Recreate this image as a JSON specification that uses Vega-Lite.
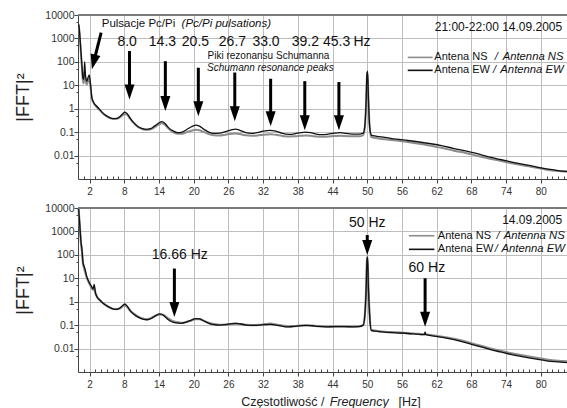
{
  "$schema": "https://vega.github.io/schema/vega-lite/v6.json",
  "padding": {"left": 14, "top": 10, "right": 0, "bottom": 0},
  "background": "white",
  "config": {
    "font": "Liberation Sans",
    "view": {"stroke": null},
    "axis": {"labelFont": "Liberation Sans", "titleFont": "Liberation Sans", "labelColor": "#333", "titleColor": "#222", "domainColor": "#444", "tickColor": "#444", "gridColor": "#bdbdbd", "gridOpacity": 1, "gridWidth": 1}
  },
  "datasets": {
    "top": [
      {"f":0.15,"v":4000,"a":"EW"},{"f":0.3,"v":1500,"a":"EW"},{"f":0.5,"v":300,"a":"EW"},{"f":0.7,"v":60,"a":"EW"},{"f":0.85,"v":20,"a":"EW"},{"f":1.0,"v":18,"a":"EW"},{"f":1.15,"v":100,"a":"EW"},{"f":1.3,"v":25,"a":"EW"},{"f":1.5,"v":15,"a":"EW"},{"f":1.7,"v":20,"a":"EW"},{"f":1.95,"v":28,"a":"EW"},{"f":2.15,"v":12,"a":"EW"},{"f":2.4,"v":3,"a":"EW"},{"f":2.8,"v":1.7,"a":"EW"},{"f":3.2,"v":1.3,"a":"EW"},{"f":3.7,"v":0.95,"a":"EW"},{"f":4.2,"v":0.7,"a":"EW"},{"f":4.8,"v":0.52,"a":"EW"},{"f":5.4,"v":0.43,"a":"EW"},{"f":6.0,"v":0.38,"a":"EW"},{"f":6.6,"v":0.38,"a":"EW"},{"f":7.2,"v":0.45,"a":"EW"},{"f":7.7,"v":0.6,"a":"EW"},{"f":8.1,"v":0.72,"a":"EW"},{"f":8.5,"v":0.62,"a":"EW"},{"f":9.0,"v":0.4,"a":"EW"},{"f":9.6,"v":0.26,"a":"EW"},{"f":10.3,"v":0.18,"a":"EW"},{"f":11.0,"v":0.145,"a":"EW"},{"f":11.8,"v":0.13,"a":"EW"},{"f":12.5,"v":0.14,"a":"EW"},{"f":13.2,"v":0.18,"a":"EW"},{"f":13.9,"v":0.24,"a":"EW"},{"f":14.5,"v":0.28,"a":"EW"},{"f":15.0,"v":0.24,"a":"EW"},{"f":15.6,"v":0.16,"a":"EW"},{"f":16.4,"v":0.115,"a":"EW"},{"f":17.2,"v":0.095,"a":"EW"},{"f":18.0,"v":0.1,"a":"EW"},{"f":18.8,"v":0.13,"a":"EW"},{"f":19.6,"v":0.17,"a":"EW"},{"f":20.4,"v":0.2,"a":"EW"},{"f":21.0,"v":0.18,"a":"EW"},{"f":21.8,"v":0.13,"a":"EW"},{"f":22.6,"v":0.1,"a":"EW"},{"f":23.5,"v":0.088,"a":"EW"},{"f":24.5,"v":0.09,"a":"EW"},{"f":25.5,"v":0.105,"a":"EW"},{"f":26.5,"v":0.125,"a":"EW"},{"f":27.2,"v":0.135,"a":"EW"},{"f":28.0,"v":0.12,"a":"EW"},{"f":29.0,"v":0.095,"a":"EW"},{"f":30.0,"v":0.088,"a":"EW"},{"f":31.0,"v":0.095,"a":"EW"},{"f":32.0,"v":0.11,"a":"EW"},{"f":33.2,"v":0.12,"a":"EW"},{"f":34.2,"v":0.11,"a":"EW"},{"f":35.2,"v":0.09,"a":"EW"},{"f":36.5,"v":0.08,"a":"EW"},{"f":37.5,"v":0.085,"a":"EW"},{"f":38.5,"v":0.095,"a":"EW"},{"f":39.3,"v":0.1,"a":"EW"},{"f":40.2,"v":0.095,"a":"EW"},{"f":41.2,"v":0.082,"a":"EW"},{"f":42.2,"v":0.078,"a":"EW"},{"f":43.2,"v":0.082,"a":"EW"},{"f":44.3,"v":0.09,"a":"EW"},{"f":45.3,"v":0.095,"a":"EW"},{"f":46.3,"v":0.088,"a":"EW"},{"f":47.5,"v":0.083,"a":"EW"},{"f":48.5,"v":0.082,"a":"EW"},{"f":49.3,"v":0.09,"a":"EW"},{"f":49.6,"v":0.2,"a":"EW"},{"f":49.8,"v":2,"a":"EW"},{"f":49.95,"v":30,"a":"EW"},{"f":50.05,"v":40,"a":"EW"},{"f":50.2,"v":3,"a":"EW"},{"f":50.4,"v":0.2,"a":"EW"},{"f":50.7,"v":0.075,"a":"EW"},{"f":51.5,"v":0.068,"a":"EW"},{"f":53,"v":0.06,"a":"EW"},{"f":55,"v":0.05,"a":"EW"},{"f":57,"v":0.044,"a":"EW"},{"f":59,"v":0.038,"a":"EW"},{"f":61,"v":0.032,"a":"EW"},{"f":63,"v":0.026,"a":"EW"},{"f":65,"v":0.02,"a":"EW"},{"f":67,"v":0.016,"a":"EW"},{"f":69,"v":0.012,"a":"EW"},{"f":71,"v":0.0088,"a":"EW"},{"f":73,"v":0.0068,"a":"EW"},{"f":75,"v":0.0053,"a":"EW"},{"f":77,"v":0.0042,"a":"EW"},{"f":79,"v":0.0034,"a":"EW"},{"f":81,"v":0.0027,"a":"EW"},{"f":83,"v":0.0023,"a":"EW"},{"f":84.7,"v":0.0021,"a":"EW"},
      {"f":0.15,"v":3500,"a":"NS"},{"f":0.3,"v":1300,"a":"NS"},{"f":0.5,"v":250,"a":"NS"},{"f":0.7,"v":50,"a":"NS"},{"f":0.85,"v":15,"a":"NS"},{"f":1.0,"v":12,"a":"NS"},{"f":1.15,"v":40,"a":"NS"},{"f":1.3,"v":18,"a":"NS"},{"f":1.5,"v":11,"a":"NS"},{"f":1.7,"v":14,"a":"NS"},{"f":1.95,"v":20,"a":"NS"},{"f":2.15,"v":9,"a":"NS"},{"f":2.4,"v":2.7,"a":"NS"},{"f":2.8,"v":1.6,"a":"NS"},{"f":3.2,"v":1.2,"a":"NS"},{"f":3.7,"v":0.9,"a":"NS"},{"f":4.2,"v":0.66,"a":"NS"},{"f":4.8,"v":0.5,"a":"NS"},{"f":5.4,"v":0.41,"a":"NS"},{"f":6.0,"v":0.37,"a":"NS"},{"f":6.6,"v":0.37,"a":"NS"},{"f":7.2,"v":0.42,"a":"NS"},{"f":7.7,"v":0.52,"a":"NS"},{"f":8.1,"v":0.6,"a":"NS"},{"f":8.5,"v":0.55,"a":"NS"},{"f":9.0,"v":0.38,"a":"NS"},{"f":9.6,"v":0.25,"a":"NS"},{"f":10.3,"v":0.17,"a":"NS"},{"f":11.0,"v":0.14,"a":"NS"},{"f":11.8,"v":0.125,"a":"NS"},{"f":12.5,"v":0.13,"a":"NS"},{"f":13.2,"v":0.16,"a":"NS"},{"f":13.9,"v":0.21,"a":"NS"},{"f":14.5,"v":0.24,"a":"NS"},{"f":15.0,"v":0.21,"a":"NS"},{"f":15.6,"v":0.145,"a":"NS"},{"f":16.4,"v":0.1,"a":"NS"},{"f":17.2,"v":0.085,"a":"NS"},{"f":18.0,"v":0.085,"a":"NS"},{"f":18.8,"v":0.1,"a":"NS"},{"f":19.6,"v":0.115,"a":"NS"},{"f":20.4,"v":0.125,"a":"NS"},{"f":21.0,"v":0.12,"a":"NS"},{"f":21.8,"v":0.1,"a":"NS"},{"f":22.6,"v":0.082,"a":"NS"},{"f":23.5,"v":0.074,"a":"NS"},{"f":24.5,"v":0.072,"a":"NS"},{"f":25.5,"v":0.078,"a":"NS"},{"f":26.5,"v":0.085,"a":"NS"},{"f":27.2,"v":0.088,"a":"NS"},{"f":28.0,"v":0.083,"a":"NS"},{"f":29.0,"v":0.073,"a":"NS"},{"f":30.0,"v":0.07,"a":"NS"},{"f":31.0,"v":0.072,"a":"NS"},{"f":32.0,"v":0.078,"a":"NS"},{"f":33.2,"v":0.082,"a":"NS"},{"f":34.2,"v":0.077,"a":"NS"},{"f":35.2,"v":0.07,"a":"NS"},{"f":36.5,"v":0.065,"a":"NS"},{"f":37.5,"v":0.066,"a":"NS"},{"f":38.5,"v":0.07,"a":"NS"},{"f":39.3,"v":0.072,"a":"NS"},{"f":40.2,"v":0.07,"a":"NS"},{"f":41.2,"v":0.065,"a":"NS"},{"f":42.2,"v":0.063,"a":"NS"},{"f":43.2,"v":0.065,"a":"NS"},{"f":44.3,"v":0.068,"a":"NS"},{"f":45.3,"v":0.07,"a":"NS"},{"f":46.3,"v":0.068,"a":"NS"},{"f":47.5,"v":0.066,"a":"NS"},{"f":48.5,"v":0.066,"a":"NS"},{"f":49.3,"v":0.075,"a":"NS"},{"f":49.6,"v":0.18,"a":"NS"},{"f":49.8,"v":1.8,"a":"NS"},{"f":49.95,"v":25,"a":"NS"},{"f":50.05,"v":35,"a":"NS"},{"f":50.2,"v":2.5,"a":"NS"},{"f":50.4,"v":0.18,"a":"NS"},{"f":50.7,"v":0.062,"a":"NS"},{"f":51.5,"v":0.056,"a":"NS"},{"f":53,"v":0.05,"a":"NS"},{"f":55,"v":0.044,"a":"NS"},{"f":57,"v":0.038,"a":"NS"},{"f":59,"v":0.032,"a":"NS"},{"f":61,"v":0.026,"a":"NS"},{"f":63,"v":0.021,"a":"NS"},{"f":65,"v":0.016,"a":"NS"},{"f":67,"v":0.013,"a":"NS"},{"f":69,"v":0.0098,"a":"NS"},{"f":71,"v":0.0075,"a":"NS"},{"f":73,"v":0.006,"a":"NS"},{"f":75,"v":0.0047,"a":"NS"},{"f":77,"v":0.0038,"a":"NS"},{"f":79,"v":0.0031,"a":"NS"},{"f":81,"v":0.0025,"a":"NS"},{"f":83,"v":0.0022,"a":"NS"},{"f":84.7,"v":0.002,"a":"NS"}
    ],
    "bottom": [
      {"f":0.1,"v":10000,"a":"EW"},{"f":0.3,"v":2000,"a":"EW"},{"f":0.5,"v":400,"a":"EW"},{"f":0.7,"v":150,"a":"EW"},{"f":0.85,"v":50,"a":"EW"},{"f":1.0,"v":35,"a":"EW"},{"f":1.2,"v":25,"a":"EW"},{"f":1.5,"v":12,"a":"EW"},{"f":1.9,"v":7,"a":"EW"},{"f":2.3,"v":4.7,"a":"EW"},{"f":2.6,"v":3.5,"a":"EW"},{"f":2.8,"v":5.5,"a":"EW"},{"f":3.0,"v":2.5,"a":"EW"},{"f":3.3,"v":1.6,"a":"EW"},{"f":3.8,"v":1.15,"a":"EW"},{"f":4.5,"v":0.8,"a":"EW"},{"f":5.3,"v":0.6,"a":"EW"},{"f":6.0,"v":0.5,"a":"EW"},{"f":6.7,"v":0.47,"a":"EW"},{"f":7.3,"v":0.55,"a":"EW"},{"f":7.8,"v":0.72,"a":"EW"},{"f":8.1,"v":0.8,"a":"EW"},{"f":8.5,"v":0.65,"a":"EW"},{"f":9.0,"v":0.42,"a":"EW"},{"f":9.6,"v":0.3,"a":"EW"},{"f":10.4,"v":0.22,"a":"EW"},{"f":11.2,"v":0.18,"a":"EW"},{"f":12.0,"v":0.17,"a":"EW"},{"f":12.8,"v":0.2,"a":"EW"},{"f":13.5,"v":0.26,"a":"EW"},{"f":14.2,"v":0.3,"a":"EW"},{"f":14.8,"v":0.26,"a":"EW"},{"f":15.5,"v":0.18,"a":"EW"},{"f":16.2,"v":0.14,"a":"EW"},{"f":17.0,"v":0.125,"a":"EW"},{"f":17.9,"v":0.12,"a":"EW"},{"f":18.7,"v":0.135,"a":"EW"},{"f":19.5,"v":0.16,"a":"EW"},{"f":20.3,"v":0.19,"a":"EW"},{"f":21.0,"v":0.185,"a":"EW"},{"f":21.8,"v":0.15,"a":"EW"},{"f":22.6,"v":0.12,"a":"EW"},{"f":23.5,"v":0.105,"a":"EW"},{"f":24.5,"v":0.1,"a":"EW"},{"f":25.5,"v":0.105,"a":"EW"},{"f":26.5,"v":0.115,"a":"EW"},{"f":27.3,"v":0.12,"a":"EW"},{"f":28.2,"v":0.112,"a":"EW"},{"f":29.2,"v":0.1,"a":"EW"},{"f":30.3,"v":0.098,"a":"EW"},{"f":31.3,"v":0.1,"a":"EW"},{"f":32.3,"v":0.105,"a":"EW"},{"f":33.3,"v":0.108,"a":"EW"},{"f":34.3,"v":0.1,"a":"EW"},{"f":35.3,"v":0.09,"a":"EW"},{"f":36.3,"v":0.085,"a":"EW"},{"f":37.3,"v":0.088,"a":"EW"},{"f":38.5,"v":0.095,"a":"EW"},{"f":39.5,"v":0.098,"a":"EW"},{"f":40.5,"v":0.094,"a":"EW"},{"f":41.5,"v":0.088,"a":"EW"},{"f":43,"v":0.085,"a":"EW"},{"f":44.5,"v":0.086,"a":"EW"},{"f":46,"v":0.086,"a":"EW"},{"f":47.5,"v":0.085,"a":"EW"},{"f":48.5,"v":0.086,"a":"EW"},{"f":49.3,"v":0.1,"a":"EW"},{"f":49.6,"v":0.3,"a":"EW"},{"f":49.8,"v":3,"a":"EW"},{"f":49.95,"v":60,"a":"EW"},{"f":50.05,"v":80,"a":"EW"},{"f":50.2,"v":4,"a":"EW"},{"f":50.4,"v":0.3,"a":"EW"},{"f":50.7,"v":0.06,"a":"EW"},{"f":51.5,"v":0.055,"a":"EW"},{"f":53,"v":0.05,"a":"EW"},{"f":55,"v":0.047,"a":"EW"},{"f":57,"v":0.044,"a":"EW"},{"f":59,"v":0.04,"a":"EW"},{"f":59.9,"v":0.039,"a":"EW"},{"f":60.0,"v":0.05,"a":"EW"},{"f":60.1,"v":0.039,"a":"EW"},{"f":61,"v":0.036,"a":"EW"},{"f":63,"v":0.03,"a":"EW"},{"f":65,"v":0.024,"a":"EW"},{"f":67,"v":0.018,"a":"EW"},{"f":69,"v":0.013,"a":"EW"},{"f":71,"v":0.0095,"a":"EW"},{"f":73,"v":0.0072,"a":"EW"},{"f":75,"v":0.0055,"a":"EW"},{"f":77,"v":0.0044,"a":"EW"},{"f":79,"v":0.0036,"a":"EW"},{"f":81,"v":0.003,"a":"EW"},{"f":83,"v":0.0027,"a":"EW"},{"f":84.7,"v":0.0025,"a":"EW"},
      {"f":0.1,"v":9000,"a":"NS"},{"f":0.3,"v":1800,"a":"NS"},{"f":0.5,"v":350,"a":"NS"},{"f":0.7,"v":130,"a":"NS"},{"f":0.85,"v":45,"a":"NS"},{"f":1.0,"v":30,"a":"NS"},{"f":1.2,"v":20,"a":"NS"},{"f":1.5,"v":11,"a":"NS"},{"f":1.9,"v":6.5,"a":"NS"},{"f":2.3,"v":4.2,"a":"NS"},{"f":2.6,"v":3.3,"a":"NS"},{"f":2.8,"v":4,"a":"NS"},{"f":3.0,"v":2.4,"a":"NS"},{"f":3.3,"v":1.6,"a":"NS"},{"f":3.8,"v":1.15,"a":"NS"},{"f":4.5,"v":0.8,"a":"NS"},{"f":5.3,"v":0.6,"a":"NS"},{"f":6.0,"v":0.5,"a":"NS"},{"f":6.7,"v":0.48,"a":"NS"},{"f":7.3,"v":0.53,"a":"NS"},{"f":7.8,"v":0.65,"a":"NS"},{"f":8.1,"v":0.7,"a":"NS"},{"f":8.5,"v":0.6,"a":"NS"},{"f":9.0,"v":0.42,"a":"NS"},{"f":9.6,"v":0.31,"a":"NS"},{"f":10.4,"v":0.23,"a":"NS"},{"f":11.2,"v":0.19,"a":"NS"},{"f":12.0,"v":0.18,"a":"NS"},{"f":12.8,"v":0.21,"a":"NS"},{"f":13.5,"v":0.26,"a":"NS"},{"f":14.2,"v":0.29,"a":"NS"},{"f":14.8,"v":0.27,"a":"NS"},{"f":15.5,"v":0.2,"a":"NS"},{"f":16.2,"v":0.155,"a":"NS"},{"f":17.0,"v":0.135,"a":"NS"},{"f":17.9,"v":0.125,"a":"NS"},{"f":18.7,"v":0.135,"a":"NS"},{"f":19.5,"v":0.155,"a":"NS"},{"f":20.3,"v":0.18,"a":"NS"},{"f":21.0,"v":0.18,"a":"NS"},{"f":21.8,"v":0.15,"a":"NS"},{"f":22.6,"v":0.125,"a":"NS"},{"f":23.5,"v":0.11,"a":"NS"},{"f":24.5,"v":0.103,"a":"NS"},{"f":25.5,"v":0.105,"a":"NS"},{"f":26.5,"v":0.112,"a":"NS"},{"f":27.3,"v":0.116,"a":"NS"},{"f":28.2,"v":0.11,"a":"NS"},{"f":29.2,"v":0.102,"a":"NS"},{"f":30.3,"v":0.1,"a":"NS"},{"f":31.3,"v":0.103,"a":"NS"},{"f":32.3,"v":0.11,"a":"NS"},{"f":33.3,"v":0.115,"a":"NS"},{"f":34.3,"v":0.105,"a":"NS"},{"f":35.3,"v":0.095,"a":"NS"},{"f":36.3,"v":0.088,"a":"NS"},{"f":37.3,"v":0.09,"a":"NS"},{"f":38.5,"v":0.096,"a":"NS"},{"f":39.5,"v":0.098,"a":"NS"},{"f":40.5,"v":0.095,"a":"NS"},{"f":41.5,"v":0.09,"a":"NS"},{"f":43,"v":0.087,"a":"NS"},{"f":44.5,"v":0.088,"a":"NS"},{"f":46,"v":0.088,"a":"NS"},{"f":47.5,"v":0.087,"a":"NS"},{"f":48.5,"v":0.088,"a":"NS"},{"f":49.3,"v":0.1,"a":"NS"},{"f":49.6,"v":0.3,"a":"NS"},{"f":49.8,"v":3,"a":"NS"},{"f":49.95,"v":55,"a":"NS"},{"f":50.05,"v":85,"a":"NS"},{"f":50.2,"v":4,"a":"NS"},{"f":50.4,"v":0.3,"a":"NS"},{"f":50.7,"v":0.062,"a":"NS"},{"f":51.5,"v":0.057,"a":"NS"},{"f":53,"v":0.052,"a":"NS"},{"f":55,"v":0.049,"a":"NS"},{"f":57,"v":0.046,"a":"NS"},{"f":59,"v":0.042,"a":"NS"},{"f":59.9,"v":0.041,"a":"NS"},{"f":60.0,"v":0.048,"a":"NS"},{"f":60.1,"v":0.041,"a":"NS"},{"f":61,"v":0.038,"a":"NS"},{"f":63,"v":0.032,"a":"NS"},{"f":65,"v":0.026,"a":"NS"},{"f":67,"v":0.02,"a":"NS"},{"f":69,"v":0.0145,"a":"NS"},{"f":71,"v":0.0105,"a":"NS"},{"f":73,"v":0.008,"a":"NS"},{"f":75,"v":0.0062,"a":"NS"},{"f":77,"v":0.005,"a":"NS"},{"f":79,"v":0.0041,"a":"NS"},{"f":81,"v":0.0034,"a":"NS"},{"f":83,"v":0.003,"a":"NS"},{"f":84.7,"v":0.0028,"a":"NS"}
    ]
  },
  "spacing": 7,
  "vconcat": [
    {
      "width": 490, "height": 164,
      "resolve": {"axis": {"x": "independent", "y": "independent"}},
      "layer": [
        {
          "data": {"name": "top"},
          "transform": [{"filter": "datum.a === 'NS'"}],
          "mark": {"type": "line", "color": "#8c8c8c", "strokeWidth": 2, "interpolate": "monotone"},
          "encoding": {
            "x": {"field": "f", "type": "quantitative",
              "scale": {"domain": [0, 84.7], "nice": false, "zero": false},
              "axis": {"orient": "bottom", "title": null, "values": [2,8,14,20,26,32,38,44,50,56,62,68,74,80], "grid": true, "labelFontSize": 10, "labelPadding": 3, "tickSize": 4}},
            "y": {"field": "v", "type": "quantitative",
              "scale": {"type": "log", "domain": [0.001, 10000], "nice": false},
              "axis": {"orient": "left", "title": "|FFT|²", "values": [0.01,0.1,1,10,100,1000,10000], "format": "~g", "grid": true,
                "labelFontSize": 10.5, "labelPadding": 0, "titleFontSize": 18, "titleFontWeight": "normal", "titlePadding": 12, "tickSize": 4}}
          }
        },
        {
          "data": {"name": "top"},
          "transform": [{"filter": "datum.a === 'EW'"}],
          "mark": {"type": "line", "color": "#111111", "strokeWidth": 1.3, "interpolate": "monotone"},
          "encoding": {
            "x": {"field": "f", "type": "quantitative",
              "axis": {"orient": "bottom", "title": null, "values": [1,3,4,5,6,7,9,10,11,12,13,15,16,17,18,19,21,22,23,24,25,27,28,29,30,31,33,34,35,36,37,39,40,41,42,43,45,46,47,48,49,51,52,53,54,55,57,58,59,60,61,63,64,65,66,67,69,70,71,72,73,75,76,77,78,79,81,82,83,84],
                "labels": false, "grid": false, "domain": false, "tickSize": -3}},
            "y": {"field": "v", "type": "quantitative",
              "axis": {"orient": "left", "title": null, "values": [0.005,0.05,0.5,5,50,500,5000], "labels": false, "grid": false, "domain": false, "tickSize": 2}}
          }
        },
        {
          "data": {"values": [{}]},
          "mark": {"type": "rule", "color": "#7a7a7a", "strokeWidth": 2},
          "encoding": {"y": {"datum": 10000, "type": "quantitative", "axis": null}}
        },
        {
          "data": {"values": [
            {"f": 8.9, "v": 290, "v2": 2.5}, {"f": 15.1, "v": 107, "v2": 0.79}, {"f": 20.8, "v": 56, "v2": 0.48},
            {"f": 27.1, "v": 35, "v2": 0.29}, {"f": 33.3, "v": 19, "v2": 0.18}, {"f": 39.2, "v": 15, "v2": 0.12}, {"f": 45.1, "v": 13.7, "v2": 0.12}
          ]},
          "mark": {"type": "rule", "color": "#000", "strokeWidth": 3, "y2Offset": -8},
          "encoding": {"x": {"field": "f", "type": "quantitative", "axis": null}, "y": {"field": "v", "type": "quantitative", "axis": null}, "y2": {"field": "v2"}}
        },
        {
          "data": {"values": [
            {"f": 8.9, "v": 2.5}, {"f": 15.1, "v": 0.79}, {"f": 20.8, "v": 0.48},
            {"f": 27.1, "v": 0.29}, {"f": 33.3, "v": 0.18}, {"f": 39.2, "v": 0.12}, {"f": 45.1, "v": 0.12}
          ]},
          "mark": {"type": "point", "shape": "M-0.5,-1.5L0.5,-1.5L0,0Z", "size": 400, "filled": true, "color": "#000", "opacity": 1, "strokeWidth": 0},
          "encoding": {"x": {"field": "f", "type": "quantitative", "axis": null}, "y": {"field": "v", "type": "quantitative", "axis": null}}
        },
        {
          "data": {"values": [{"f": 4.0, "f2": 2.4, "v": 1770, "v2": 48}]},
          "mark": {"type": "rule", "color": "#000", "strokeWidth": 3, "y2Offset": -8, "x2Offset": 2},
          "encoding": {"x": {"field": "f", "type": "quantitative", "axis": null}, "x2": {"field": "f2"}, "y": {"field": "v", "type": "quantitative", "axis": null}, "y2": {"field": "v2"}}
        },
        {
          "data": {"values": [{"f": 2.4, "v": 48}]},
          "mark": {"type": "point", "shape": "M-0.5,-1.5L0.5,-1.5L0,0Z", "size": 400, "filled": true, "color": "#000", "opacity": 1, "strokeWidth": 0, "angle": 14},
          "encoding": {"x": {"field": "f", "type": "quantitative", "axis": null}, "y": {"field": "v", "type": "quantitative", "axis": null}}
        },
        {
          "data": {"values": [
            {"f": 8.5, "v": 680, "t": "8.0"}, {"f": 14.6, "v": 680, "t": "14.3"}, {"f": 20.3, "v": 680, "t": "20.5"},
            {"f": 26.7, "v": 680, "t": "26.7"}, {"f": 32.5, "v": 680, "t": "33.0"}, {"f": 39.3, "v": 680, "t": "39.2"},
            {"f": 44.7, "v": 680, "t": "45.3"}, {"f": 49.1, "v": 680, "t": "Hz"}
          ]},
          "mark": {"type": "text", "fontSize": 14, "align": "center", "baseline": "middle", "color": "#111"},
          "encoding": {"x": {"field": "f", "type": "quantitative", "axis": null}, "y": {"field": "v", "type": "quantitative", "axis": null}, "text": {"field": "t"}}
        },
        {
          "data": {"values": [{"f": 4.1, "v": 4000, "t": "Pulsacje Pc/Pi"}]},
          "mark": {"type": "text", "fontSize": 11.5, "align": "left", "baseline": "middle", "color": "#111"},
          "encoding": {"x": {"field": "f", "type": "quantitative", "axis": null}, "y": {"field": "v", "type": "quantitative", "axis": null}, "text": {"field": "t"}}
        },
        {
          "data": {"values": [{"f": 17.9, "v": 4000, "t": "(Pc/Pi pulsations)"}]},
          "mark": {"type": "text", "fontSize": 11.5, "fontStyle": "italic", "align": "left", "baseline": "middle", "color": "#111"},
          "encoding": {"x": {"field": "f", "type": "quantitative", "axis": null}, "y": {"field": "v", "type": "quantitative", "axis": null}, "text": {"field": "t"}}
        },
        {
          "data": {"values": [{"f": 61.6, "v": 155, "t": "Antena NS"}, {"f": 61.6, "v": 43.4, "t": "Antena EW"}]},
          "mark": {"type": "text", "fontSize": 11, "align": "left", "baseline": "middle", "color": "#111"},
          "encoding": {"x": {"field": "f", "type": "quantitative", "axis": null}, "y": {"field": "v", "type": "quantitative", "axis": null}, "text": {"field": "t"}}
        },
        {
          "data": {"values": [{"f": 72.3, "v": 155, "t": "/"}, {"f": 72.0, "v": 43.4, "t": "/"}]},
          "mark": {"type": "text", "fontSize": 11, "fontStyle": "italic", "align": "center", "baseline": "middle", "color": "#111"},
          "encoding": {"x": {"field": "f", "type": "quantitative", "axis": null}, "y": {"field": "v", "type": "quantitative", "axis": null}, "text": {"field": "t"}}
        },
        {
          "data": {"values": [{"f": 73.4, "v": 155, "t": "Antenna NS"}, {"f": 73.0, "v": 43.4, "t": "Antenna EW"}]},
          "mark": {"type": "text", "fontSize": 11.3, "fontStyle": "italic", "align": "left", "baseline": "middle", "color": "#111"},
          "encoding": {"x": {"field": "f", "type": "quantitative", "axis": null}, "y": {"field": "v", "type": "quantitative", "axis": null}, "text": {"field": "t"}}
        },
        {
          "data": {"values": [{"f": 22.4, "v": 172, "t": "Piki rezonansu Schumanna"}]},
          "mark": {"type": "text", "fontSize": 10, "align": "left", "baseline": "middle", "color": "#111"},
          "encoding": {"x": {"field": "f", "type": "quantitative", "axis": null}, "y": {"field": "v", "type": "quantitative", "axis": null}, "text": {"field": "t"}}
        },
        {
          "data": {"values": [{"f": 22.3, "v": 55, "t": "Schumann resonance peaks"}]},
          "mark": {"type": "text", "fontSize": 10, "fontStyle": "italic", "align": "left", "baseline": "middle", "color": "#111"},
          "encoding": {"x": {"field": "f", "type": "quantitative", "axis": null}, "y": {"field": "v", "type": "quantitative", "axis": null}, "text": {"field": "t"}}
        },
        {
          "data": {"values": [{"f": 83.7, "v": 3190, "t": "21:00-22:00 14.09.2005"}]},
          "mark": {"type": "text", "fontSize": 12, "align": "right", "baseline": "middle", "color": "#111"},
          "encoding": {"x": {"field": "f", "type": "quantitative", "axis": null}, "y": {"field": "v", "type": "quantitative", "axis": null}, "text": {"field": "t"}}
        },
        {
          "data": {"values": [{"f": 57.0, "f2": 61.3, "v": 155, "a": "NS"}, {"f": 57.0, "f2": 61.3, "v": 43.4, "a": "EW"}]},
          "mark": {"type": "rule", "strokeWidth": 1.6},
          "encoding": {"x": {"field": "f", "type": "quantitative", "axis": null}, "x2": {"field": "f2"}, "y": {"field": "v", "type": "quantitative", "axis": null},
            "color": {"field": "a", "type": "nominal", "scale": {"domain": ["NS", "EW"], "range": ["#8c8c8c", "#111111"]}, "legend": null}}
        }
      ]
    },
    {
      "width": 490, "height": 164,
      "resolve": {"axis": {"x": "independent", "y": "independent"}},
      "layer": [
        {
          "data": {"name": "bottom"},
          "transform": [{"filter": "datum.a === 'NS'"}],
          "mark": {"type": "line", "color": "#8c8c8c", "strokeWidth": 2.2, "interpolate": "monotone"},
          "encoding": {
            "x": {"field": "f", "type": "quantitative",
              "scale": {"domain": [0, 84.7], "nice": false, "zero": false},
              "axis": {"orient": "bottom", "title": null, "values": [2,8,14,20,26,32,38,44,50,56,62,68,74,80], "grid": true, "labelFontSize": 10, "labelPadding": 3, "tickSize": 4}},
            "y": {"field": "v", "type": "quantitative",
              "scale": {"type": "log", "domain": [0.001, 10000], "nice": false},
              "axis": {"orient": "left", "title": "|FFT|²", "values": [0.01,0.1,1,10,100,1000,10000], "format": "~g", "grid": true,
                "labelFontSize": 10.5, "labelPadding": 0, "titleFontSize": 18, "titleFontWeight": "normal", "titlePadding": 12, "tickSize": 4}}
          }
        },
        {
          "data": {"name": "bottom"},
          "transform": [{"filter": "datum.a === 'EW'"}],
          "mark": {"type": "line", "color": "#111111", "strokeWidth": 1.3, "interpolate": "monotone"},
          "encoding": {
            "x": {"field": "f", "type": "quantitative",
              "axis": {"orient": "bottom", "title": null, "values": [1,3,4,5,6,7,9,10,11,12,13,15,16,17,18,19,21,22,23,24,25,27,28,29,30,31,33,34,35,36,37,39,40,41,42,43,45,46,47,48,49,51,52,53,54,55,57,58,59,60,61,63,64,65,66,67,69,70,71,72,73,75,76,77,78,79,81,82,83,84],
                "labels": false, "grid": false, "domain": false, "tickSize": -3}},
            "y": {"field": "v", "type": "quantitative",
              "axis": {"orient": "left", "title": null, "values": [0.005,0.05,0.5,5,50,500,5000], "labels": false, "grid": false, "domain": false, "tickSize": 2}}
          }
        },
        {
          "data": {"values": [{}]},
          "mark": {"type": "rule", "color": "#7a7a7a", "strokeWidth": 2},
          "encoding": {"y": {"datum": 10000, "type": "quantitative", "axis": null}}
        },
        {
          "data": {"values": [
            {"f": 50, "v": 700, "v2": 98}, {"f": 60, "v": 10, "v2": 0.085}, {"f": 16.66, "v": 26, "v2": 0.22}
          ]},
          "mark": {"type": "rule", "color": "#000", "strokeWidth": 3, "y2Offset": -8},
          "encoding": {"x": {"field": "f", "type": "quantitative", "axis": null}, "y": {"field": "v", "type": "quantitative", "axis": null}, "y2": {"field": "v2"}}
        },
        {
          "data": {"values": [{"f": 50, "v": 98}, {"f": 60, "v": 0.085}, {"f": 16.66, "v": 0.22}]},
          "mark": {"type": "point", "shape": "M-0.5,-1.5L0.5,-1.5L0,0Z", "size": 400, "filled": true, "color": "#000", "opacity": 1, "strokeWidth": 0},
          "encoding": {"x": {"field": "f", "type": "quantitative", "axis": null}, "y": {"field": "v", "type": "quantitative", "axis": null}}
        },
        {
          "data": {"values": [
            {"f": 50, "v": 2220, "t": "50 Hz"}, {"f": 60.3, "v": 26.5, "t": "60 Hz"}, {"f": 17.6, "v": 98, "t": "16.66 Hz"}
          ]},
          "mark": {"type": "text", "fontSize": 14, "align": "center", "baseline": "middle", "color": "#111"},
          "encoding": {"x": {"field": "f", "type": "quantitative", "axis": null}, "y": {"field": "v", "type": "quantitative", "axis": null}, "text": {"field": "t"}}
        },
        {
          "data": {"values": [{"f": 62.2, "v": 655, "t": "Antena NS"}, {"f": 62.2, "v": 172, "t": "Antena EW"}]},
          "mark": {"type": "text", "fontSize": 11, "align": "left", "baseline": "middle", "color": "#111"},
          "encoding": {"x": {"field": "f", "type": "quantitative", "axis": null}, "y": {"field": "v", "type": "quantitative", "axis": null}, "text": {"field": "t"}}
        },
        {
          "data": {"values": [{"f": 72.6, "v": 655, "t": "/"}, {"f": 72.3, "v": 172, "t": "/"}]},
          "mark": {"type": "text", "fontSize": 11, "fontStyle": "italic", "align": "center", "baseline": "middle", "color": "#111"},
          "encoding": {"x": {"field": "f", "type": "quantitative", "axis": null}, "y": {"field": "v", "type": "quantitative", "axis": null}, "text": {"field": "t"}}
        },
        {
          "data": {"values": [{"f": 73.6, "v": 655, "t": "Antenna NS"}, {"f": 73.2, "v": 172, "t": "Antenna EW"}]},
          "mark": {"type": "text", "fontSize": 11.3, "fontStyle": "italic", "align": "left", "baseline": "middle", "color": "#111"},
          "encoding": {"x": {"field": "f", "type": "quantitative", "axis": null}, "y": {"field": "v", "type": "quantitative", "axis": null}, "text": {"field": "t"}}
        },
        {
          "data": {"values": [{"f": 83.7, "v": 3070, "t": "14.09.2005"}]},
          "mark": {"type": "text", "fontSize": 12, "align": "right", "baseline": "middle", "color": "#111"},
          "encoding": {"x": {"field": "f", "type": "quantitative", "axis": null}, "y": {"field": "v", "type": "quantitative", "axis": null}, "text": {"field": "t"}}
        },
        {
          "data": {"values": [{"f": 57.2, "f2": 61.6, "v": 655, "a": "NS"}, {"f": 57.2, "f2": 61.6, "v": 172, "a": "EW"}]},
          "mark": {"type": "rule", "strokeWidth": 1.6},
          "encoding": {"x": {"field": "f", "type": "quantitative", "axis": null}, "x2": {"field": "f2"}, "y": {"field": "v", "type": "quantitative", "axis": null},
            "color": {"field": "a", "type": "nominal", "scale": {"domain": ["NS", "EW"], "range": ["#8c8c8c", "#111111"]}, "legend": null}}
        },
        {
          "data": {"values": [{"f": 28.2, "v": 0.0000527, "t": "Częstotliwość /"}, {"f": 55.4, "v": 0.0000527, "t": "[Hz]"}]},
          "mark": {"type": "text", "fontSize": 12.5, "align": "left", "baseline": "middle", "color": "#222"},
          "encoding": {"x": {"field": "f", "type": "quantitative", "axis": null}, "y": {"field": "v", "type": "quantitative", "axis": null}, "text": {"field": "t"}}
        },
        {
          "data": {"values": [{"f": 43.5, "v": 0.0000527, "t": "Frequency"}]},
          "mark": {"type": "text", "fontSize": 12.5, "fontStyle": "italic", "align": "left", "baseline": "middle", "color": "#222"},
          "encoding": {"x": {"field": "f", "type": "quantitative", "axis": null}, "y": {"field": "v", "type": "quantitative", "axis": null}, "text": {"field": "t"}}
        }
      ]
    }
  ]
}
